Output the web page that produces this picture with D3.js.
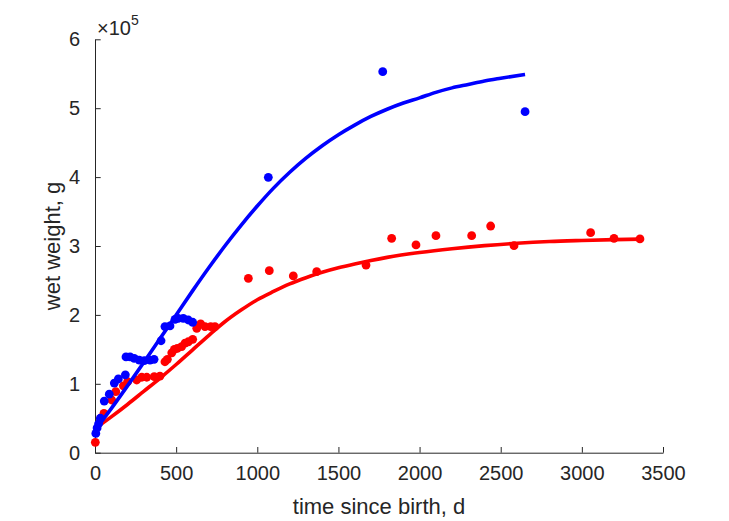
<!DOCTYPE html>
<html>
<head>
<meta charset="utf-8">
<script src="https://cdn.jsdelivr.net/npm/d3@7"></script>
<style>
  html, body { margin: 0; padding: 0; background: #ffffff; }
  svg { display: block; }
  text { font-family: "Liberation Sans", Arial, Helvetica, sans-serif; fill: #262626; }
</style>
</head>
<body>
<div id="chart"></div>
<script>
// ---- data ----
const xTicks = [0, 500, 1000, 1500, 2000, 2500, 3000, 3500];
const yTicks = [0, 100000, 200000, 300000, 400000, 500000, 600000];
const yTickLabels = ["0", "1", "2", "3", "4", "5", "6"];
const xLabel = "time since birth, d";
const yLabel = "wet weight, g";

// blue series: observations
const blueT = [5, 13, 22, 33, 57, 88, 119, 144, 187, 191, 216, 242, 273, 304, 339, 364, 407, 431, 462, 493, 513, 544, 575, 602, 1068, 1773, 2650];
const blueW = [28000, 36000, 42000, 50000, 75000, 85000, 101000, 107000, 113000, 139000, 139000, 137000, 134500, 133500, 134500, 135500, 162500, 183000, 184000, 193600, 195000, 195000, 192600, 189300, 399700, 553000, 494900];

// red series: observations
const redT = [2, 35, 55, 103, 128, 175, 201, 257, 288, 319, 365, 400, 431, 446, 473, 489, 507, 534, 555, 575, 602, 627, 651, 678, 713, 739, 945, 1074, 1222, 1366, 1670, 1828, 1978, 2101, 2321, 2438, 2582, 3054, 3198, 3358];
const redW = [15000, 50000, 57000, 76500, 88500, 97000, 103000, 105500, 109500, 109500, 110500, 111000, 132000, 135500, 145000, 150000, 151500, 154000, 159000, 161000, 164500, 180500, 187000, 183000, 183000, 183000, 253100, 264200, 256500, 262700, 272400, 311200, 301500, 315000, 315000, 329000, 300400, 319300, 311200, 310200];

// fitted curves
const blueFitT = [0, 100, 200, 300, 400, 500, 600, 700, 800, 900, 1000, 1100, 1200, 1300, 1400, 1500, 1600, 1700, 1800, 1900, 2000, 2100, 2200, 2300, 2400, 2500, 2650];
const blueFitW = [33000, 64000, 97000, 131000, 165500, 200000, 234500, 268000, 300000, 330000, 358000, 384000, 407000, 427500, 445500, 461500, 475500, 488000, 498500, 507500, 515000, 523000, 529500, 534500, 539500, 543500, 549000];
const redFitT = [0, 100, 200, 300, 400, 500, 600, 700, 800, 900, 1000, 1100, 1200, 1300, 1400, 1500, 1600, 1700, 1800, 2000, 2200, 2400, 2600, 2800, 3000, 3200, 3358];
const redFitW = [35000, 52000, 70000, 89000, 108000, 128000, 149000, 170000, 190000, 207000, 222000, 234000, 245000, 254000, 262000, 268500, 274000, 279000, 283500, 290500, 296000, 300500, 304000, 306500, 308000, 309200, 310000];

// ---- drawing ----
const W = 729, H = 521;
const mLeft = 95, mRight = 663, mTop = 39.3, mBottom = 452.7;
const axisColor = "#262626";
const blue = "#0000ff", red = "#ff0000";

const svg = d3.select("#chart").append("svg")
  .attr("width", W).attr("height", H);

const x = d3.scaleLinear().domain([0, 3500]).range([mLeft, mRight]);
const y = d3.scaleLinear().domain([0, 600000]).range([mBottom, mTop]);

// axes (MATLAB-like: ticks inside, no box)
const xAxis = d3.axisBottom(x).tickValues(xTicks).tickSizeInner(-5.7).tickSizeOuter(0)
  .tickPadding(13).tickFormat(d3.format("d"));
const gx = svg.append("g").attr("transform", `translate(0,${mBottom})`).call(xAxis);

const yAxis = d3.axisLeft(y).tickValues(yTicks).tickSizeInner(-5.7).tickSizeOuter(0)
  .tickPadding(15).tickFormat((d, i) => yTickLabels[i]);
const gy = svg.append("g").attr("transform", `translate(${mLeft},0)`).call(yAxis);

[gx, gy].forEach(g => {
  g.select(".domain").attr("stroke", axisColor).attr("stroke-width", 1);
  g.selectAll(".tick line").attr("stroke", axisColor).attr("stroke-width", 1);
  g.selectAll(".tick text").style("font-family", '"Liberation Sans", Arial, sans-serif')
    .style("font-size", "20px").attr("fill", axisColor);
});

// exponent label
const expo = svg.append("text").attr("x", mLeft + 2).attr("y", 34.5)
  .style("font-size", "20px");
expo.append("tspan").text("\u00d710");
expo.append("tspan").attr("dy", -10).style("font-size", "14px").text("5");

// axis labels
svg.append("text").attr("x", (mLeft + mRight) / 2).attr("y", 514)
  .attr("text-anchor", "middle").style("font-size", "22px").text(xLabel);
svg.append("text").attr("transform", `translate(60,${(mTop + mBottom) / 2}) rotate(-90)`)
  .attr("text-anchor", "middle").style("font-size", "22px").text(yLabel);

const line = d3.line().x(d => x(d[0])).y(d => y(d[1])).curve(d3.curveMonotoneX);
const zip = (a, b) => a.map((v, i) => [v, b[i]]);

const plot = svg.append("g");

// red observations & fit
plot.append("g").selectAll("circle").data(zip(redT, redW)).join("circle")
  .attr("cx", d => x(d[0])).attr("cy", d => y(d[1])).attr("r", 4.4).attr("fill", red);
plot.append("path").datum(zip(redFitT, redFitW)).attr("d", line)
  .attr("fill", "none").attr("stroke", red).attr("stroke-width", 3.6);

// blue observations & fit
plot.append("g").selectAll("circle").data(zip(blueT, blueW)).join("circle")
  .attr("cx", d => x(d[0])).attr("cy", d => y(d[1])).attr("r", 4.4).attr("fill", blue);
plot.append("path").datum(zip(blueFitT, blueFitW)).attr("d", line)
  .attr("fill", "none").attr("stroke", blue).attr("stroke-width", 3.6);
</script>
</body>
</html>
